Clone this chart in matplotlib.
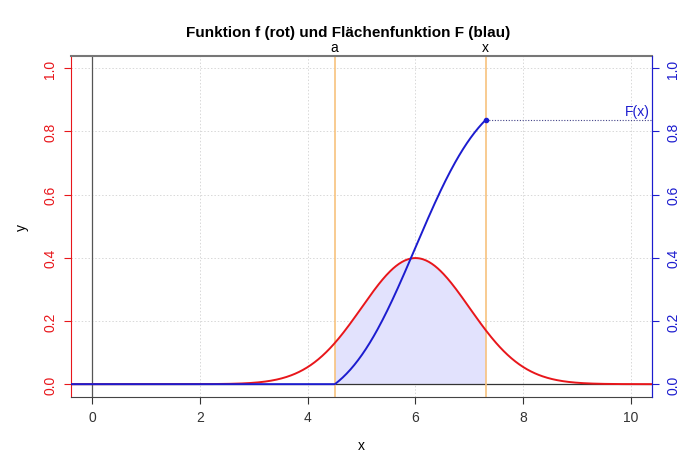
import numpy as np
import matplotlib.pyplot as plt

plt.rcParams['font.family'] = ['Liberation Sans', 'DejaVu Sans']

# values
mu = 6.0          # peak of f
sigma = 1.0       # spread of f
a = 4.5           # lower bound of the area function
x_val = 7.3       # current x
x_lim = (-0.39, 10.39)
y_lim = (-0.041, 1.038)
x_ticks = [0, 2, 4, 6, 8, 10]
y_ticks = [0.0, 0.2, 0.4, 0.6, 0.8, 1.0]

xs = np.linspace(x_lim[0], x_lim[1], 600)
f = np.exp(-0.5 * ((xs - mu) / sigma) ** 2) / (sigma * np.sqrt(2 * np.pi))

# F = integral of f from a to x (only drawn up to x_val)
dx = xs[1] - xs[0]
F_all = np.concatenate([[0], np.cumsum((f[1:] + f[:-1]) / 2 * dx)])
i_a = np.searchsorted(xs, a)
F_all = F_all - F_all[i_a]
F_all[xs < a] = 0
mask_F = xs <= x_val
xF = np.append(xs[mask_F], x_val)
fx = np.exp(-0.5 * ((x_val - mu) / sigma) ** 2) / (sigma * np.sqrt(2 * np.pi))
F_end = np.interp(x_val, xs, F_all)
yF = np.append(F_all[mask_F], F_end)

red = '#e8161b'
blue = '#1c1ccf'
orange = '#f7c27e'

fig = plt.figure(figsize=(6.96, 4.64), dpi=100)
ax = fig.add_axes([0.102, 0.142, 0.835, 0.735])

ax.set_xlim(*x_lim)
ax.set_ylim(*y_lim)
for gx in x_ticks:
    ax.axvline(gx, color='#d8d8d8', lw=0.7, ls=(0, (1.5, 2)), zorder=0)
for gy in y_ticks:
    ax.axhline(gy, color='#d8d8d8', lw=0.7, ls=(0, (1.5, 2)), zorder=0)

# shaded area under f between a and x
sh = (xs >= a) & (xs <= x_val)
ax.fill_between(np.concatenate([[a], xs[sh], [x_val]]),
                0,
                np.concatenate([[np.interp(a, xs, f)], f[sh], [fx]]),
                color='#e2e2fd', lw=0, zorder=1)

ax.axhline(0, color='#333333', lw=0.9, zorder=2)
ax.axvline(0, color='#555555', lw=0.9, zorder=2)
ax.axvline(a, color=orange, lw=1.2, zorder=2)
ax.axvline(x_val, color=orange, lw=1.2, zorder=2)

ax.plot(xs, f, color=red, lw=1.4, zorder=3)
ax.plot(xF, yF, color=blue, lw=1.4, zorder=4)
ax.plot([x_val], [F_end], 'o', color=blue, ms=3, zorder=5)
ax.plot([x_val, x_lim[1]], [F_end, F_end], color='#444488', lw=0.8,
        ls=(0, (1, 1.5)), zorder=4)
ax.text(10.35, F_end + 0.005, 'F(x)', color=blue, fontsize=10,
        ha='right', va='bottom')

ax.text(a, y_lim[1] + 0.005, 'a', ha='center', va='bottom', fontsize=10)
ax.text(x_val, y_lim[1] + 0.005, 'x', ha='center', va='bottom', fontsize=10)

ax.set_xticks(x_ticks)
ax.set_yticks(y_ticks)
ax.tick_params(axis='x', labelsize=10, colors='#333333', length=5, pad=4)
ax.tick_params(axis='y', labelsize=10, colors=red, length=5, pad=5)
for lab in ax.get_yticklabels():
    lab.set_rotation(90)
    lab.set_va('center')
ax.spines['left'].set_color(red)
ax.spines['top'].set_color('#777777')
ax.spines['bottom'].set_color('#444444')
ax.spines['right'].set_color(blue)
ax.spines['top'].set_linewidth(1.5)

ax2 = ax.twinx()
ax2.set_ylim(*y_lim)
ax2.set_yticks(y_ticks)
ax2.tick_params(axis='y', labelsize=10, colors=blue, length=5, pad=5)
for lab in ax2.get_yticklabels():
    lab.set_rotation(90)
    lab.set_va('center')
ax2.spines['right'].set_color(blue)
ax2.spines['left'].set_visible(False)
ax2.spines['top'].set_visible(False)
ax2.spines['bottom'].set_visible(False)

ax.set_xlabel('x', fontsize=10, labelpad=10)
ax.set_ylabel('y', fontsize=10, labelpad=10)
fig.suptitle('Funktion f (rot) und Flächenfunktion F (blau)', fontsize=11,
             fontweight='bold', y=0.945)

fig.savefig('out.png', dpi=100)
